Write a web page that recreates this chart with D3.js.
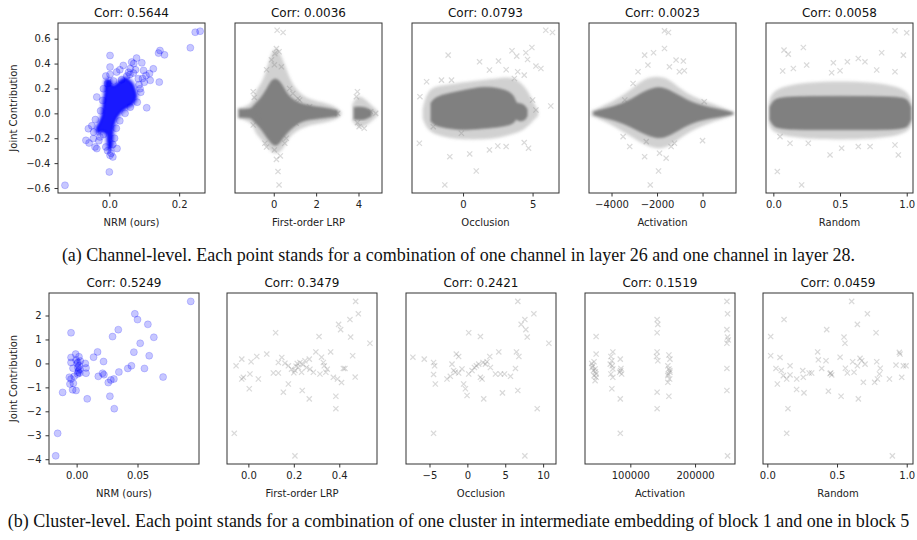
<!DOCTYPE html>
<html>
<head>
<meta charset="utf-8">
<script src="https://cdn.jsdelivr.net/npm/d3@7"></script>
<style>
  body { margin: 0; background: #fff; }
  svg { display: block; font-family: "DejaVu Sans", sans-serif; }
  .caption { font-family: "Liberation Serif", "Times New Roman", serif; }
</style>
</head>
<body>
<svg id="chart"></svg>
<script>
// ---- data ----
const methods = ["NRM (ours)", "First-order LRP", "Occlusion", "Activation", "Random"];
const channelCorr = ["0.5644", "0.0036", "0.0793", "0.0023", "0.0058"];
const clusterCorr = ["0.5249", "0.3479", "0.2421", "0.1519", "0.0459"];

const captionA = "(a) Channel-level. Each point stands for a combination of one channel in layer 26 and one channel in layer 28.";
const captionB = "(b) Cluster-level. Each point stands for a combination of one cluster in intermediate embedding of block 1 and one in block 5";

const channelYTicks = [-0.6, -0.4, -0.2, 0, 0.2, 0.4, 0.6];
const channelYTickLabels = ["−0.6", "−0.4", "−0.2", "0.0", "0.2", "0.4", "0.6"];
const clusterYTicks = [-4, -3, -2, -1, 0, 1, 2];
const clusterYTickLabels = ["−4", "−3", "−2", "−1", "0", "1", "2"];

const channelXDomains = [[-0.147, 0.274], [-1.83, 5.11], [-3.67, 6.9], [-4990, 1470], [-0.055, 1.047]];
const channelXTicks = [[0, 0.2], [0, 2, 4], [0, 5], [-4000, -2000, 0], [0, 0.5, 1]];
const channelXTickLabels = [["0.0", "0.2"], ["0", "2", "4"], ["0", "5"], ["−4000", "−2000", "0"], ["0.0", "0.5", "1.0"]];

const clusterXDomains = [[-0.0227, 0.1005], [-0.094, 0.566], [-8.1, 11.7], [30000, 261700], [-0.031, 1.045]];
const clusterXTicks = [[0, 0.05], [0, 0.2, 0.4], [-5, 0, 5, 10], [100000, 200000], [0, 0.5, 1]];
const clusterXTickLabels = [["0.00", "0.05"], ["0.0", "0.2", "0.4"], ["−5", "0", "5", "10"], ["100000", "200000"], ["0.0", "0.5", "1.0"]];

// channel-level: NRM dense core outline [x, y] and visible circles
const nrmCore = [
  [-0.0096, 0.265], [0.0019, 0.27], [0.0115, 0.225], [0.0258, 0.251], [0.045, 0.286], [0.064, 0.251],
  [0.0737, 0.198], [0.0785, 0.131], [0.0689, 0.078], [0.0545, 0.051], [0.0354, 0.011], [0.0211, -0.043],
  [0.0134, -0.11], [0.0096, -0.217], [0.0067, -0.283], [0.0, -0.297], [-0.0057, -0.243], [-0.0096, -0.163],
  [-0.022, -0.15], [-0.0316, -0.163], [-0.0383, -0.123], [-0.0316, -0.083], [-0.022, -0.016],
  [-0.019, 0.051], [-0.0153, 0.131], [-0.0124, 0.198]
];
const nrmPoints = [
  [0.246, 0.652], [0.26, 0.66], [0.232, 0.527], [-0.127, -0.578], [0.145, 0.505], [0.158, 0.47], [0.141, 0.484],
  [0.143, 0.251], [0.107, 0.045], [0.126, 0.358], [0.117, 0.265], [0.093, 0.406], [0.078, 0.444], [0.064, 0.412],
  [0.069, 0.324], [0.002, 0.465], [0.002, 0.372], [0.002, 0.313], [0.021, 0.332], [0.04, 0.385], [0.059, 0.313],
  [0.088, 0.198], [0.083, 0.278], [0.098, 0.345], [0.105, 0.305], [0.022, -0.283], [0.002, -0.337], [0.0, -0.471],
  [0.01, -0.35], [-0.06, -0.123], [-0.058, -0.238], [-0.041, -0.27], [-0.036, -0.283], [-0.067, -0.217],
  [-0.046, -0.203], [-0.027, -0.19], [-0.03, -0.22], [-0.017, -0.17], [-0.036, 0.131], [-0.017, 0.198],
  [-0.019, 0.104], [-0.025, 0.02], [0.03, 0.35], [0.05, 0.3], [0.035, 0.27], [0.085, 0.23], [0.09, 0.17],
  [0.08, 0.09], [0.06, 0.05], [0.045, 0.0], [0.03, -0.06], [0.02, -0.12], [0.015, -0.2], [0.01, -0.25],
  [0.005, -0.32], [-0.005, -0.3], [-0.01, -0.27], [-0.045, -0.15], [-0.05, -0.1], [-0.04, -0.05], [0.07, 0.4],
  [0.06, 0.36], [0.115, 0.32], [0.1, 0.25], [0.075, 0.35], [-0.005, 0.24], [-0.01, 0.3], [0.012, 0.26],
  [0.055, 0.33], [0.095, 0.28]
];

// channel-level gray clouds: envelopes [x, low, high] of the solid core and the lighter fringe
const lrpCore = [
  [-1.63, -0.03, 0.03], [-1.05, -0.032, 0.032], [-0.97, -0.059, 0.059], [-0.66, -0.107, 0.107],
  [-0.34, -0.187, 0.187], [-0.11, -0.24, 0.267], [0.125, -0.267, 0.281], [0.36, -0.214, 0.24],
  [0.59, -0.16, 0.16], [0.9, -0.107, 0.107], [1.38, -0.053, 0.067], [2.16, -0.04, 0.048],
  [2.78, -0.027, 0.032], [3.0, -0.02, 0.02]
];
const lrpBlob = [[3.8, -0.045, 0.045], [3.9, -0.05, 0.05], [4.3, -0.05, 0.05], [4.6, -0.02, 0.02]];
const lrpFringe = [
  [-1.7, -0.04, 0.04], [-1.0, -0.07, 0.07], [-0.9, -0.16, 0.18], [-0.5, -0.22, 0.25], [-0.2, -0.3, 0.45],
  [0.1, -0.33, 0.55], [0.4, -0.3, 0.45], [0.7, -0.2, 0.3], [1.0, -0.15, 0.2], [1.5, -0.1, 0.12],
  [2.3, -0.08, 0.09], [3.0, -0.05, 0.05], [3.2, -0.01, 0.01]
];
const lrpBlobFringe = [[3.7, -0.06, 0.07], [4.0, -0.12, 0.16], [4.4, -0.1, 0.1], [4.9, -0.02, 0.02]];
const lrpPoints = [
  [0.16, 0.668], [0.44, 0.65], [0.125, 0.52], [0.05, 0.48], [0.25, 0.495], [-0.34, 0.35], [-0.11, 0.43],
  [0.36, 0.374], [0.03, 0.39], [0.2, -0.468], [0.25, -0.575], [0.31, -0.342], [0.125, -0.37], [0.03, -0.294],
  [-0.97, 0.174], [-0.92, 0.128], [-0.97, -0.094], [0.75, 0.2], [0.9, 0.16], [1.14, 0.12], [1.06, -0.08],
  [1.22, 0.107], [3.02, 0], [3.95, 0.174], [3.9, 0.134], [3.95, -0.075], [4.03, -0.107], [4.27, -0.12],
  [4.81, 0], [4.58, 0.013], [-0.42, -0.24], [-0.34, -0.27], [0.52, -0.24], [0.59, -0.2], [-0.73, -0.027],
  [1.69, 0.053]
];

const occCore = [
  [-2.3, -0.06, 0.08], [-2.0, -0.1, 0.13], [-1.0, -0.12, 0.16], [0.24, -0.134, 0.187], [1.43, -0.12, 0.214],
  [2.62, -0.107, 0.2], [3.33, -0.094, 0.174], [3.69, -0.07, 0.13], [3.81, -0.04, 0.08], [3.95, -0.06, 0.08],
  [4.4, -0.06, 0.07], [4.6, -0.02, 0.03]
];
const occFringe = [
  [-2.9, -0.04, 0.04], [-2.6, -0.13, 0.17], [-2.0, -0.17, 0.22], [-1.0, -0.2, 0.23], [0, -0.21, 0.25],
  [1.5, -0.21, 0.27], [2.5, -0.2, 0.28], [3.5, -0.17, 0.3], [4.5, -0.13, 0.22], [5.1, -0.05, 0.08], [5.4, -0.02, 0.02]
];
const occPoints = [
  [5.95, 0.668], [6.43, 0.65], [-1.07, 0.468], [1.19, 0.414], [2.55, 0.42], [3.52, 0.503], [3.86, 0.46],
  [4.52, 0.487], [4.95, 0.529], [4.64, 0.433], [5.24, 0.38], [5.6, 0.36], [3.1, 0.35], [3.93, 0.334],
  [1.9, 0.348], [3.69, 0.28], [4.4, 0.307], [-2.62, 0.254], [-1.55, 0.267], [-0.83, 0.267], [-3.1, 0.134],
  [6.31, 0.059], [-3.14, -0.24], [-0.95, -0.348], [0.48, -0.326], [1.9, -0.294], [2.5, -0.262], [3.1, -0.267],
  [4.4, -0.235], [4.71, -0.28], [0.95, -0.463], [-1.31, -0.575], [-0.12, -0.16], [-2.14, -0.107],
  [5.24, 0.027], [5.0, 0.107]
];

const actCore = [
  [-4771, -0.01, 0.01], [-4509, -0.025, 0.025], [-3927, -0.05, 0.05], [-3200, -0.1, 0.1], [-2618, -0.16, 0.17],
  [-2036, -0.2, 0.214], [-1600, -0.19, 0.2], [-1018, -0.13, 0.14], [-436, -0.07, 0.08], [436, -0.035, 0.04],
  [1018, -0.02, 0.02], [1309, -0.005, 0.005]
];
const actFringe = [
  [-4900, -0.02, 0.02], [-4500, -0.05, 0.05], [-3900, -0.1, 0.1], [-3200, -0.18, 0.18], [-2600, -0.25, 0.28],
  [-2000, -0.29, 0.3], [-1500, -0.27, 0.28], [-1000, -0.2, 0.2], [-400, -0.13, 0.13], [400, -0.07, 0.08],
  [1000, -0.04, 0.04], [1400, -0.01, 0.01]
];
const actPoints = [
  [-1673, 0.663], [-1498, 0.65], [-1673, 0.521], [-2545, 0.468], [-2153, 0.487], [-1164, 0.428], [-844, 0.42],
  [-2836, 0.334], [-2400, 0.388], [-1455, 0.374], [-1018, 0.334], [-800, 0.342], [-3054, 0.24], [-3418, 0.107],
  [73, 0.094], [-1935, -0.463], [-2298, -0.575], [-3200, -0.267], [-3491, -0.187], [-1382, -0.267],
  [-1236, -0.24], [0, -0.219], [-2473, -0.227], [-1891, -0.32], [-1600, -0.36], [-2545, -0.348]
];

const rndCore = [
  [-0.025, -0.05, 0.05], [-0.0, -0.1, 0.1], [0.05, -0.13, 0.135], [0.5, -0.13, 0.135], [0.97, -0.13, 0.135],
  [1.01, -0.1, 0.1], [1.03, -0.05, 0.05]
];
const rndFringe = [[-0.035, -0.08, 0.08], [0.0, -0.19, 0.23], [0.5, -0.22, 0.27], [1.0, -0.19, 0.23], [1.04, -0.08, 0.08]];
const rndPoints = [
  [0.912, 0.663], [1.0, 0.647], [0.08, 0.508], [0.112, 0.476], [0.225, 0.529], [0.25, 0.388], [0.07, 0.34],
  [0.15, 0.36], [0.45, 0.406], [0.555, 0.414], [0.5, 0.342], [0.637, 0.441], [0.687, 0.414], [0.775, 0.348],
  [0.812, 0.487], [0.975, 0.468], [0.912, 0.334], [0.437, 0.326], [0.03, -0.468], [0.212, -0.575],
  [0.425, -0.334], [0.512, -0.28], [0.637, -0.267], [0.725, -0.267], [0.937, -0.334], [0.912, -0.254],
  [0.262, -0.24], [0.125, -0.24], [0.05, -0.187]
];

// cluster-level points [x, y]
const clusterNrm = [
  [0.0937, 2.59], [0.0478, 2.07], [0.05, 1.83], [0.0585, 1.63], [0.0342, 1.41], [0.0295, 1.12], [0.0634, 1.09],
  [0.0522, 0.84], [-0.0046, 1.28], [0.0172, 0.48], [0.0139, 0.26], [0.0221, 0.08], [0.047, 0.47], [0.0596, 0.32],
  [0.0178, -0.54], [0.0213, -0.41], [0.0224, -0.47], [0.026, -0.8], [0.0281, -0.69], [0.0306, -0.65],
  [0.0347, -0.36], [0.042, -0.21], [0.045, -0.1], [0.0557, -0.21], [0.071, -0.57], [0.0273, -1.37],
  [0.0309, -1.89], [0.0087, -1.48], [-0.0115, -1.21], [-0.0156, -2.92], [-0.0172, -3.86],
  [-0.0046, 0.25], [-0.0046, 0.04], [-0.0008, 0.39], [0.0019, 0.28], [-0.0005, 0.14], [0.0005, 0.0],
  [0.001, -0.17], [0.0016, -0.3], [0.0008, -0.44], [-0.002, -0.54], [-0.0046, -0.65], [-0.006, -0.58],
  [-0.0027, -0.83], [-0.0033, -1.1], [-0.0005, -1.13], [-0.0055, -0.86], [0.0071, 0.0], [0.0077, -0.19],
  [0.0077, -0.41], [0.002, -0.1], [0.0027, -0.24], [0.0013, -0.37], [0.003, 0.1], [0.0025, -0.4],
  [0.001, 0.05], [-0.003, -0.2]
];
const clusterLrp = [
  [0.472, 2.59], [0.484, 2.07], [0.447, 1.83], [0.397, 1.63], [0.406, 1.41], [0.45, 1.1], [0.311, 1.12],
  [0.535, 0.84], [0.12, 1.28], [0.297, 0.48], [0.362, 0.48], [0.322, 0.26], [0.459, 0.32], [0.334, -0.1],
  [0.418, -0.21], [0.425, -0.21], [0.47, -0.57], [0.374, -0.58], [0.392, -0.65], [0.41, -0.8], [0.385, -1.37],
  [0.385, -1.89], [0.268, -1.48], [0.237, -1.13], [0.176, -0.86], [0.154, -1.2], [0.004, -1.06], [-0.062, -2.92],
  [0.205, -3.86], [0.044, -0.65], [-0.029, -0.65], [-0.022, -0.58], [-0.054, -0.1], [-0.029, 0.18], [0.012, 0.07],
  [0.037, 0.29], [0.081, 0.39], [0.007, -0.44], [0.11, -0.4], [0.132, -0.4], [0.147, 0.25], [0.132, 0.04],
  [0.161, 0.01], [0.176, -0.1], [0.19, -0.24], [0.205, -0.3], [0.22, -0.17], [0.227, 0.04], [0.249, 0.11],
  [0.2, -0.39], [0.256, -0.17], [0.271, -0.24], [0.234, -0.37], [0.286, -0.37], [0.315, -0.44], [0.341, -0.37],
  [0.347, -0.24], [0.33, 0.04], [0.268, 0.18], [0.215, 0.0], [0.24, -0.05], [0.21, -0.12]
];
const clusterOcc = [
  [6.66, 2.59], [8.78, 2.07], [7.59, 1.83], [7.1, 1.63], [7.72, 1.41], [7.9, 1.1], [0.18, 1.28], [1.72, 1.12],
  [10.76, 0.84], [4.15, 0.48], [6.48, 0.48], [6.8, 0.29], [2.96, 0.29], [-7.19, 0.26], [-5.69, 0.18],
  [-4.46, 0.04], [-4.32, -0.1], [-4.46, -0.46], [-4.23, -0.86], [-2.69, -0.65], [-2.25, -0.54], [-2.03, -0.03],
  [-1.46, 0.39], [-1.15, 0.29], [-1.59, -0.37], [-1.15, -0.4], [-1.81, -0.3], [0.18, -0.44], [-0.49, -0.86],
  [-0.26, -1.06], [-0.04, -1.34], [0.93, -0.17], [1.19, -0.1], [1.72, -0.58], [1.94, -0.65], [2.38, -0.03],
  [2.6, 0.07], [3.04, -0.17], [3.71, -0.44], [4.37, -0.44], [4.9, -0.44], [5.69, -0.54], [6.35, -0.21],
  [6.66, -1.13], [4.63, -1.23], [2.16, -1.48], [9.22, -1.89], [-4.46, -2.92], [7.59, -3.86], [0.62, -0.3],
  [-0.71, -0.23], [1.5, -0.03], [2.07, 0.04]
];
const clusterAct = [
  [40400, 0.0], [42000, -0.1], [44000, 0.07], [41000, -0.17], [45600, -0.23], [47200, -0.44], [44000, -0.51],
  [47200, -0.58], [45600, -0.72], [47200, 0.39], [47200, 1.12], [43000, -0.3], [46000, -0.35],
  [73000, 0.48], [70000, 0.29], [71500, 0.11], [69000, -0.03], [73000, -0.23], [70000, -0.44], [73000, -0.58],
  [71500, -1.06], [72000, -0.1],
  [84500, 0.18], [85500, -0.21], [83500, -0.37], [86600, -0.44], [84500, -1.48], [84500, -2.92], [85000, -0.3],
  [141400, 1.83], [142500, 1.63], [141400, 1.28], [141400, 0.48], [140400, 0.29], [142500, 0.11], [141400, -1.2],
  [141400, -1.89],
  [159600, 0.35], [161200, 0.18], [158000, -0.1], [159600, -0.23], [161200, -0.37], [158000, -0.51],
  [160700, -0.65], [158000, -0.79], [159600, -1.37], [161000, -0.3], [158500, -0.44],
  [249200, 2.59], [250200, 2.07], [249200, 1.41], [250200, 1.1], [249200, 0.84], [251300, 0.98], [249200, -0.21],
  [249200, -1.13], [250200, -3.86]
];
const clusterRnd = [
  [0.605, 2.59], [0.12, 1.83], [0.718, 2.07], [0.646, 1.63], [0.426, 1.41], [0.78, 1.28], [0.024, 1.12],
  [0.55, 1.1], [0.557, 0.84], [0.947, 0.46], [0.952, 0.39], [0.361, 0.48], [0.024, 0.32], [0.091, 0.25],
  [0.522, 0.26], [0.366, 0.15], [0.421, 0.11], [0.665, 0.21], [0.612, 0.07], [0.677, 0.11], [0.701, -0.03],
  [0.646, -0.1], [0.785, 0.07], [0.062, -0.21], [0.163, -0.1], [0.115, -0.51], [0.139, -0.65], [0.163, -0.48],
  [0.211, -0.65], [0.254, -0.3], [0.258, -0.58], [0.318, -0.4], [0.39, -0.21], [0.455, -0.4], [0.462, -0.48],
  [0.574, -0.4], [0.622, -0.37], [0.689, -0.79], [0.79, -0.65], [0.804, -0.44], [0.876, -0.65], [0.923, -0.07],
  [0.976, -0.1], [0.995, -0.1], [0.964, -0.58], [0.072, -0.86], [0.21, -1.09], [0.263, -1.23], [0.438, -1.16],
  [0.529, -1.37], [0.653, -1.48], [0.148, -1.89], [0.139, -2.92], [0.897, -3.86], [0.77, -0.79], [0.45, -0.42],
  [0.81, -0.2], [0.1, -0.3], [0.56, -0.2], [0.3, -0.4]
];

// ---- layout ----
const svgWidth = 917;
const svgHeight = 540;
const blue = "#0000ff";
const gray = "#808080";

const rows = [
  {
    lefts: [58, 235, 412, 589, 766], width: 147, top: 23, bottom: 193,
    yDomain: [-0.64, 0.726], yTicks: channelYTicks, yTickLabels: channelYTickLabels,
    xDomains: channelXDomains, xTicks: channelXTicks, xTickLabels: channelXTickLabels,
    corr: channelCorr, caption: captionA, captionY: 261, titleY: 17, labelY: 226,
    points: [nrmPoints, lrpPoints, occPoints, actPoints, rndPoints],
    cores: [null, [lrpCore, lrpBlob], [occCore], [actCore], [rndCore]],
    fringes: [null, [lrpFringe, lrpBlobFringe], [occFringe], [actFringe], [rndFringe]]
  },
  {
    lefts: [49, 227, 406, 585, 763], width: 150, top: 293, bottom: 464,
    yDomain: [-4.2, 2.94], yTicks: clusterYTicks, yTickLabels: clusterYTickLabels,
    xDomains: clusterXDomains, xTicks: clusterXTicks, xTickLabels: clusterXTickLabels,
    corr: clusterCorr, caption: captionB, captionY: 527, titleY: 287, labelY: 497,
    points: [clusterNrm, clusterLrp, clusterOcc, clusterAct, clusterRnd],
    cores: [null, null, null, null, null],
    fringes: [null, null, null, null, null]
  }
];

const svg = d3.select("#chart").attr("width", svgWidth).attr("height", svgHeight);
const crossPath = "M-2.6,-2.6L2.6,2.6M-2.6,2.6L2.6,-2.6";

// soft edge for the sparse fringe of the dense clouds
const defs = svg.append("defs");
defs.append("filter").attr("id", "soft")
  .attr("x", "-20%").attr("y", "-40%").attr("width", "140%").attr("height", "180%")
  .append("feGaussianBlur").attr("stdDeviation", 1.6);
defs.append("filter").attr("id", "edge")
  .append("feGaussianBlur").attr("stdDeviation", 0.8);

rows.forEach((row, r) => {
  const y = d3.scaleLinear().domain(row.yDomain).range([row.bottom, row.top]);

  methods.forEach((method, i) => {
    const left = row.lefts[i];
    const x = d3.scaleLinear().domain(row.xDomains[i]).range([left, left + row.width]);
    const g = svg.append("g");
    const clipId = `clip-${r}-${i}`;

    g.append("clipPath").attr("id", clipId)
      .append("rect")
      .attr("x", left).attr("y", row.top)
      .attr("width", row.width).attr("height", row.bottom - row.top);

    const plot = g.append("g").attr("clip-path", `url(#${clipId})`);

    const area = d3.area()
      .x(d => x(d[0]))
      .y0(d => y(d[1]))
      .y1(d => y(d[2]))
      .curve(d3.curveBasis);

    if (row.fringes[i]) {
      row.fringes[i].forEach(env => {
        plot.append("path").attr("d", area(env))
          .attr("fill", gray).attr("fill-opacity", 0.36)
          .attr("filter", "url(#soft)");
      });
    }
    if (row.cores[i]) {
      row.cores[i].forEach(env => {
        plot.append("path").attr("d", area(env))
          .attr("fill", gray).attr("stroke", gray).attr("stroke-opacity", 0.5).attr("stroke-width", 2)
          .attr("filter", "url(#edge)");
      });
    }

    if (i === 0) {
      // NRM: blue circles
      if (r === 0) {
        const outline = d3.line().x(d => x(d[0])).y(d => y(d[1])).curve(d3.curveCatmullRomClosed);
        plot.append("path").attr("d", outline(nrmCore))
          .attr("fill", blue).attr("fill-opacity", 0.9)
          .attr("stroke", blue).attr("stroke-opacity", 0.3).attr("stroke-width", 5)
          .attr("filter", "url(#edge)");
      }
      plot.selectAll("circle.pt")
        .data(row.points[i])
        .enter()
        .append("circle")
        .attr("class", "pt")
        .attr("cx", d => x(d[0]))
        .attr("cy", d => y(d[1]))
        .attr("r", 3.5)
        .attr("fill", blue).attr("fill-opacity", 0.22)
        .attr("stroke", blue).attr("stroke-opacity", 0.22).attr("stroke-width", 0.8);
    } else {
      plot.selectAll("path.pt")
        .data(row.points[i])
        .enter()
        .append("path")
        .attr("class", "pt")
        .attr("transform", d => `translate(${x(d[0])},${y(d[1])})`)
        .attr("d", crossPath)
        .attr("fill", "none")
        .attr("stroke", gray).attr("stroke-opacity", 0.3).attr("stroke-width", 1.2);
    }

    // frame
    g.append("rect")
      .attr("x", left).attr("y", row.top)
      .attr("width", row.width).attr("height", row.bottom - row.top)
      .attr("fill", "none").attr("stroke", "#333").attr("stroke-width", 1);

    // x axis
    const labels = row.xTickLabels[i];
    const xAxis = g.append("g")
      .attr("transform", `translate(0,${row.bottom})`)
      .call(d3.axisBottom(x).tickValues(row.xTicks[i])
        .tickFormat((d, k) => labels[k]).tickSize(3.5).tickPadding(4).tickSizeOuter(0));
    xAxis.select(".domain").remove();
    xAxis.selectAll("line").attr("stroke", "#333");
    xAxis.selectAll("text").attr("fill", "#222").style("font-size", "10px").style("font-family", "DejaVu Sans");

    // y axis on first panel
    if (i === 0) {
      const yl = row.yTickLabels;
      const yAxis = g.append("g")
        .attr("transform", `translate(${left},0)`)
        .call(d3.axisLeft(y).tickValues(row.yTicks)
          .tickFormat((d, k) => yl[k]).tickSize(3.5).tickPadding(4).tickSizeOuter(0));
      yAxis.select(".domain").remove();
      yAxis.selectAll("line").attr("stroke", "#333");
      yAxis.selectAll("text").attr("fill", "#222").style("font-size", "10px").style("font-family", "DejaVu Sans");

      g.append("text")
        .attr("transform", `translate(17,${(row.top + row.bottom) / 2}) rotate(-90)`)
        .attr("text-anchor", "middle")
        .attr("fill", "#222")
        .style("font-size", "10px")
        .text("Joint Contribution");
    }

    // title and axis label
    g.append("text")
      .attr("x", left + row.width / 2).attr("y", row.titleY)
      .attr("text-anchor", "middle").attr("fill", "#111")
      .style("font-size", "12px")
      .text(`Corr: ${row.corr[i]}`);

    g.append("text")
      .attr("x", left + row.width / 2).attr("y", row.labelY)
      .attr("text-anchor", "middle").attr("fill", "#222")
      .style("font-size", "10px")
      .text(method);
  });

  svg.append("text")
    .attr("class", "caption")
    .attr("x", svgWidth / 2).attr("y", row.captionY)
    .attr("text-anchor", "middle").attr("fill", "#111")
    .style("font-size", "18px")
    .text(row.caption);
});
</script>
</body>
</html>
